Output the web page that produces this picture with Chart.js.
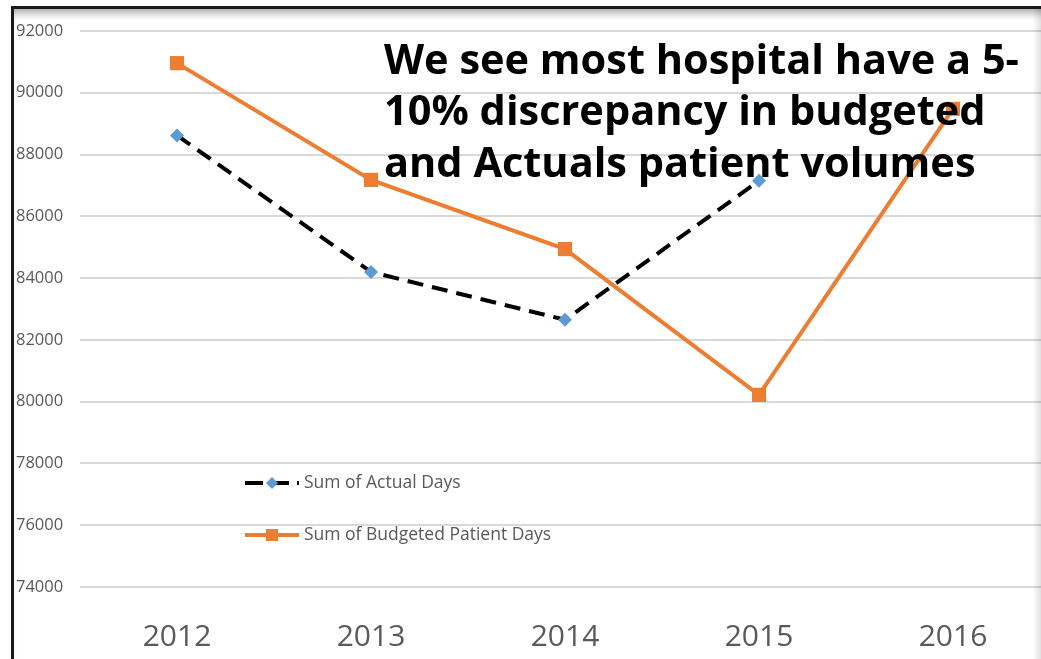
<!DOCTYPE html>
<html>
<head>
<meta charset="utf-8">
<script src="https://cdn.jsdelivr.net/npm/chart.js@4.4.1/dist/chart.umd.min.js"></script>
<style>
  html, body { margin: 0; padding: 0; background: #fff; overflow: hidden; }
  #wrap { position: relative; width: 1041px; height: 659px; overflow: hidden; }
  #frame {
    position: absolute; left: 11px; top: 6px; width: 1040px; height: 700px;
    border-top: 3px solid #1a1a1a; border-left: 3px solid #1a1a1a;
    box-shadow: inset 0 10px 8px -6px rgba(0,0,0,0.35);
    pointer-events: none;
  }
  #edge { position: absolute; left: 1033px; top: 6px; width: 8px; height: 659px;
    background: linear-gradient(to right, rgba(0,0,0,0), rgba(0,0,0,0.12)); }
  canvas { position: absolute; left: 0; top: 0; }
</style>
</head>
<body>
<div id="wrap">
  <canvas id="c" width="1060" height="659" style="width:1060px;height:659px"></canvas>
  <div id="frame"></div>
  <div id="edge"></div>
</div>
<script>
// data
const years = ["2012", "2013", "2014", "2015", "2016"];
const actualDays = [88620, 84200, 82650, 87150, null];
const budgetedDays = [90960, 87180, 84940, 80220, 89480];
const yTicks = [74000, 76000, 78000, 80000, 82000, 84000, 86000, 88000, 90000, 92000];
const noteLines = [
  "We see most hospital have a 5-",
  "10% discrepancy in budgeted",
  "and Actuals patient volumes"
];

const grey = "#595959";

// legend inside the plot + the big note
const overlay = {
  id: "overlay",
  afterDatasetsDraw(chart) {
    const ctx = chart.ctx;
    ctx.save();
    // legend
    const items = [
      { label: "Sum of Actual Days", y: 483, ds: chart.data.datasets[0] },
      { label: "Sum of Budgeted Patient Days", y: 535, ds: chart.data.datasets[1] }
    ];
    items.forEach(it => {
      ctx.beginPath();
      ctx.strokeStyle = it.ds.borderColor;
      ctx.lineWidth = 4;
      ctx.setLineDash(it.ds.borderDash ? [18, 8] : []);
      ctx.lineCap = "butt";
      ctx.moveTo(245, it.y);
      ctx.lineTo(299, it.y);
      ctx.stroke();
      ctx.setLineDash([]);
      ctx.fillStyle = it.ds.pointBackgroundColor;
      const cx = 272;
      if (it.ds.pointStyle === "rectRot") {
        ctx.beginPath();
        ctx.moveTo(cx, it.y - 6); ctx.lineTo(cx + 6, it.y);
        ctx.lineTo(cx, it.y + 6); ctx.lineTo(cx - 6, it.y);
        ctx.closePath(); ctx.fill();
      } else {
        ctx.fillRect(cx - 6, it.y - 6, 12, 12);
      }
      ctx.fillStyle = grey;
      ctx.font = "17.5px 'Open Sans', sans-serif";
      ctx.textBaseline = "middle";
      ctx.textAlign = "left";
      ctx.fillText(it.label, 304, it.y);
    });
    // note
    ctx.fillStyle = "#000";
    ctx.font = "bold 41.5px 'Open Sans', sans-serif";
    ctx.textBaseline = "middle";
    noteLines.forEach((t, i) => ctx.fillText(t, 384, 62 + i * 51.5));
    ctx.restore();
  }
};

new Chart(document.getElementById("c"), {
  type: "line",
  data: {
    labels: years,
    datasets: [
      {
        label: "Sum of Actual Days",
        data: actualDays,
        borderColor: "#000000",
        borderWidth: 4,
        borderDash: [16, 9],
        pointStyle: "rectRot",
        pointRadius: 7,
        pointBackgroundColor: "#5b9bd5",
        pointBorderWidth: 0,
        tension: 0,
        order: 1
      },
      {
        label: "Sum of Budgeted Patient Days",
        data: budgetedDays,
        borderColor: "#ed7d31",
        borderWidth: 4,
        pointStyle: "rect",
        pointRadius: 10,
        pointBackgroundColor: "#ed7d31",
        pointBorderWidth: 0,
        tension: 0,
        order: 2
      }
    ]
  },
  options: {
    responsive: false,
    animation: false,
    layout: { padding: { left: 16, top: 31, right: 9, bottom: 0 } },
    plugins: { legend: { display: false }, tooltip: { enabled: false } },
    scales: {
      x: {
        offset: true,
        grid: { display: false },
        border: { display: false },
        ticks: { color: grey, font: { size: 30, family: "'Open Sans', sans-serif" }, padding: 24 },
        afterFit(s) { s.height = 72; }
      },
      y: {
        min: 74000,
        max: 92000,
        afterBuildTicks(s) { s.ticks = yTicks.map(v => ({ value: v })); },
        grid: { color: "#d9d9d9", lineWidth: 2, drawTicks: false },
        border: { display: false },
        ticks: {
          color: grey, crossAlign: "far", padding: 0,
          font: { size: 16.5, family: "'Open Sans', sans-serif" },
          callback: v => String(v)
        },
        afterFit(s) { s.width = 64; }
      }
    }
  },
  plugins: [overlay]
});
</script>
</body>
</html>
